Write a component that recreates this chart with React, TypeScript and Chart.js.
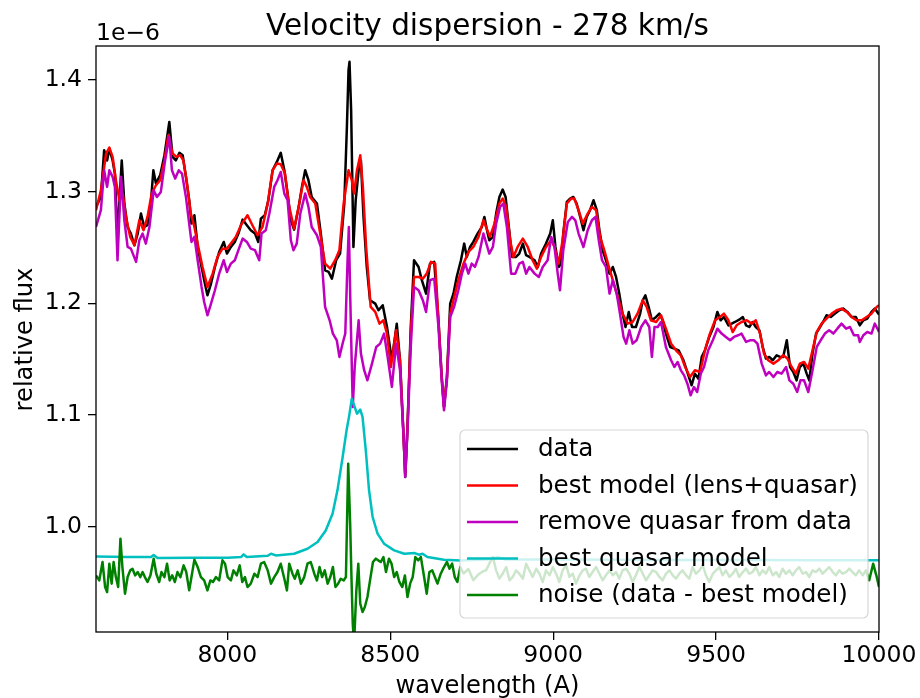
import React, { useEffect, useRef } from "react";
import { Chart, registerables } from "chart.js";

Chart.register(...registerables);

// ---------- DATA (flux in units of 1e-6) ----------
const TITLE = "Velocity dispersion - 278 km/s";
const X_LABEL = "wavelength (A)";
const Y_LABEL = "relative flux";
const Y_OFFSET_LABEL = "1e\u22126";

const X_MIN = 7597;
const X_MAX = 10000;
const Y_MIN = 0.9056;
const Y_MAX = 1.4305;
const X_TICKS = [8000, 8500, 9000, 9500, 10000];
const Y_TICKS = [1.0, 1.1, 1.2, 1.3, 1.4];

const SERIES_LABELS = [
  "data",
  "best model (lens+quasar)",
  "remove quasar from data",
  "best quasar model",
  "noise (data - best model)",
];
const SERIES_COLORS = ["#000000", "#ff0000", "#bf00bf", "#00bfbf", "#008000"];

const DATA_FLUX: [number, number][] = [
  [7597, 1.2864], [7612, 1.2953], [7622, 1.3372], [7631, 1.328], [7638, 1.3386], [7648, 1.328],
  [7655, 1.316], [7663, 1.2595], [7676, 1.328], [7684, 1.2894], [7694, 1.2684], [7704, 1.2625],
  [7715, 1.252], [7725, 1.2625], [7735, 1.2804], [7745, 1.2684], [7755, 1.27], [7766, 1.2924],
  [7773, 1.3192], [7781, 1.3073], [7794, 1.3148], [7807, 1.3327], [7822, 1.3625], [7832, 1.3312],
  [7842, 1.328], [7853, 1.3348], [7863, 1.3327], [7873, 1.3133], [7883, 1.2924], [7890, 1.2714],
  [7899, 1.2789], [7909, 1.2505], [7921, 1.2326], [7929, 1.2207], [7939, 1.2072], [7950, 1.2177],
  [7962, 1.2326], [7975, 1.246], [7989, 1.255], [7999, 1.2446], [8011, 1.2505], [8023, 1.255],
  [8034, 1.2625], [8047, 1.275], [8060, 1.27], [8072, 1.2655], [8085, 1.2625], [8095, 1.255],
  [8103, 1.2759], [8115, 1.2789], [8126, 1.2924], [8139, 1.3192], [8152, 1.3267], [8164, 1.3348],
  [8175, 1.3192], [8185, 1.2983], [8195, 1.2744], [8205, 1.266], [8219, 1.2864], [8229, 1.3043],
  [8239, 1.3192], [8249, 1.3103], [8259, 1.2953], [8275, 1.2894], [8287, 1.2625], [8300, 1.2296],
  [8311, 1.2281], [8321, 1.2221], [8334, 1.2386], [8346, 1.2446], [8359, 1.2894], [8367, 1.358],
  [8372, 1.4088], [8375, 1.4163], [8380, 1.373], [8387, 1.2505], [8394, 1.2924], [8403, 1.3192],
  [8410, 1.328], [8418, 1.2774], [8428, 1.2326], [8438, 1.2028], [8454, 1.1997], [8464, 1.1938],
  [8477, 1.1983], [8490, 1.1788], [8505, 1.149], [8520, 1.1818], [8530, 1.149], [8541, 1.0803],
  [8546, 1.0444], [8553, 1.0892], [8563, 1.1788], [8573, 1.2386], [8587, 1.2326], [8597, 1.2207],
  [8610, 1.2087], [8622, 1.2356], [8635, 1.2371], [8648, 1.1848], [8658, 1.134], [8665, 1.1072],
  [8674, 1.134], [8684, 1.1997], [8694, 1.2087], [8704, 1.2236], [8717, 1.2386], [8727, 1.2535],
  [8735, 1.2416], [8745, 1.2505], [8755, 1.255], [8768, 1.2625], [8781, 1.2684], [8789, 1.2774],
  [8798, 1.264], [8804, 1.2565], [8815, 1.2595], [8825, 1.2804], [8835, 1.2953], [8845, 1.3019],
  [8854, 1.2953], [8864, 1.2684], [8874, 1.2416], [8886, 1.2416], [8896, 1.2446], [8907, 1.2535],
  [8917, 1.2431], [8927, 1.2416], [8943, 1.2386], [8953, 1.2326], [8963, 1.2446], [8978, 1.2535],
  [8991, 1.2625], [8999, 1.2744], [9007, 1.2505], [9017, 1.2326], [9024, 1.2356], [9031, 1.2625],
  [9042, 1.2908], [9052, 1.2938], [9062, 1.2953], [9072, 1.2894], [9083, 1.2774], [9093, 1.2655],
  [9103, 1.2774], [9113, 1.2834], [9124, 1.2923], [9134, 1.2834], [9142, 1.2655], [9152, 1.2475],
  [9162, 1.2386], [9173, 1.2266], [9183, 1.2326], [9193, 1.2236], [9203, 1.2087], [9213, 1.1908],
  [9222, 1.1788], [9232, 1.1923], [9242, 1.1788], [9254, 1.1788], [9267, 1.1908], [9275, 1.2027],
  [9283, 1.2072], [9293, 1.1968], [9303, 1.1848], [9316, 1.1878], [9326, 1.1908], [9336, 1.1848],
  [9346, 1.1729], [9359, 1.1609], [9372, 1.1594], [9385, 1.1579], [9400, 1.149], [9410, 1.14],
  [9420, 1.131], [9425, 1.1266], [9435, 1.137], [9446, 1.1325], [9456, 1.152], [9466, 1.158],
  [9479, 1.1699], [9492, 1.1788], [9504, 1.1923], [9514, 1.1848], [9524, 1.1878], [9538, 1.1803],
  [9548, 1.1818], [9558, 1.1833], [9571, 1.1854], [9582, 1.1878], [9592, 1.1803], [9602, 1.1788],
  [9612, 1.1833], [9622, 1.1788], [9633, 1.1758], [9643, 1.161], [9653, 1.1505], [9663, 1.152],
  [9674, 1.149], [9686, 1.1535], [9696, 1.152], [9706, 1.152], [9717, 1.167], [9727, 1.143],
  [9737, 1.1385], [9747, 1.131], [9757, 1.143], [9768, 1.146], [9778, 1.137], [9786, 1.131],
  [9796, 1.155], [9807, 1.1729], [9819, 1.1788], [9831, 1.1848], [9839, 1.1893], [9852, 1.1878],
  [9865, 1.1908], [9878, 1.1938], [9890, 1.1953], [9903, 1.1923], [9916, 1.1878], [9929, 1.1878],
  [9941, 1.1803], [9952, 1.1848], [9964, 1.1863], [9977, 1.1923], [9987, 1.1953], [10000, 1.19],
];

const MODEL_FLUX: [number, number][] = [
  [7597, 1.2834], [7612, 1.3013], [7628, 1.3342], [7638, 1.3395], [7648, 1.3312], [7658, 1.3103],
  [7669, 1.2924], [7679, 1.2983], [7689, 1.2774], [7702, 1.2595], [7715, 1.252], [7730, 1.2744],
  [7743, 1.2655], [7755, 1.2774], [7768, 1.2983], [7781, 1.3058], [7794, 1.3103], [7807, 1.328],
  [7819, 1.3506], [7832, 1.3342], [7844, 1.3312], [7855, 1.3327], [7865, 1.328], [7875, 1.3103],
  [7888, 1.2804], [7899, 1.2684], [7911, 1.2505], [7924, 1.2326], [7939, 1.2147], [7955, 1.2266],
  [7970, 1.2416], [7985, 1.249], [7999, 1.249], [8011, 1.2535], [8026, 1.2595], [8042, 1.27],
  [8062, 1.2789], [8077, 1.27], [8093, 1.261], [8108, 1.2684], [8124, 1.2894], [8139, 1.3192],
  [8152, 1.3252], [8164, 1.3246], [8177, 1.3162], [8190, 1.2864], [8205, 1.2669], [8219, 1.2864],
  [8234, 1.3103], [8244, 1.3043], [8254, 1.2953], [8270, 1.2894], [8285, 1.2625], [8300, 1.2356],
  [8316, 1.2311], [8331, 1.2386], [8344, 1.2476], [8357, 1.2894], [8372, 1.3192], [8382, 1.3103],
  [8389, 1.2983], [8398, 1.3192], [8408, 1.3327], [8416, 1.3043], [8426, 1.2505], [8440, 1.1968],
  [8454, 1.1923], [8467, 1.1818], [8479, 1.1848], [8490, 1.1729], [8502, 1.143], [8518, 1.1759],
  [8530, 1.149], [8541, 1.0803], [8546, 1.0474], [8553, 1.0892], [8563, 1.1729], [8573, 1.2236],
  [8587, 1.2236], [8600, 1.2221], [8612, 1.2266], [8625, 1.2371], [8638, 1.2356], [8648, 1.1848],
  [8658, 1.134], [8665, 1.1072], [8674, 1.134], [8684, 1.1908], [8694, 1.2028], [8709, 1.2207],
  [8725, 1.2356], [8740, 1.246], [8755, 1.2505], [8771, 1.2595], [8786, 1.2744], [8798, 1.2655],
  [8806, 1.2595], [8820, 1.2714], [8835, 1.2894], [8845, 1.2938], [8856, 1.2864], [8868, 1.2565],
  [8878, 1.2416], [8891, 1.2505], [8907, 1.258], [8922, 1.2505], [8937, 1.2386], [8950, 1.2311],
  [8963, 1.2416], [8978, 1.2505], [8994, 1.2565], [9004, 1.2505], [9017, 1.2356], [9029, 1.2565],
  [9042, 1.2894], [9055, 1.2938], [9065, 1.2938], [9078, 1.2834], [9091, 1.2714], [9106, 1.2804],
  [9119, 1.2864], [9132, 1.2834], [9144, 1.2595], [9157, 1.2475], [9171, 1.2326], [9183, 1.2207],
  [9198, 1.2057], [9213, 1.1908], [9229, 1.1818], [9244, 1.1833], [9259, 1.1908], [9275, 1.2027],
  [9287, 1.1968], [9300, 1.1848], [9316, 1.1833], [9331, 1.1893], [9346, 1.1773], [9362, 1.1639],
  [9377, 1.1579], [9392, 1.1534], [9405, 1.143], [9420, 1.134], [9435, 1.14], [9451, 1.1385],
  [9466, 1.158], [9481, 1.1729], [9497, 1.1848], [9512, 1.1878], [9524, 1.1908], [9538, 1.1848],
  [9551, 1.1743], [9563, 1.1803], [9578, 1.1833], [9594, 1.1848], [9609, 1.1818], [9622, 1.1848],
  [9635, 1.1729], [9647, 1.155], [9660, 1.149], [9676, 1.146], [9691, 1.149], [9706, 1.1535],
  [9719, 1.1505], [9732, 1.143], [9745, 1.137], [9757, 1.146], [9770, 1.1475], [9783, 1.1415],
  [9796, 1.158], [9809, 1.1744], [9824, 1.1818], [9839, 1.1863], [9855, 1.1908], [9870, 1.1938],
  [9885, 1.1953], [9901, 1.1923], [9916, 1.1878], [9931, 1.1848], [9947, 1.1848], [9962, 1.1878],
  [9977, 1.1908], [9993, 1.1968], [10000, 1.1983],
];

const NO_QUASAR_FLUX: [number, number][] = [
  [7597, 1.2684], [7612, 1.2834], [7622, 1.3192], [7631, 1.3043], [7638, 1.3192], [7648, 1.3133],
  [7655, 1.3043], [7663, 1.2386], [7674, 1.3133], [7684, 1.2744], [7694, 1.2505], [7704, 1.249],
  [7720, 1.2371], [7730, 1.2565], [7740, 1.2625], [7750, 1.2535], [7761, 1.2684], [7774, 1.3013],
  [7784, 1.2953], [7796, 1.2998], [7809, 1.328], [7822, 1.3491], [7830, 1.3192], [7840, 1.3118],
  [7851, 1.3192], [7861, 1.3162], [7873, 1.2953], [7883, 1.2714], [7890, 1.255], [7899, 1.2595],
  [7909, 1.2386], [7921, 1.2147], [7929, 1.2012], [7939, 1.1893], [7950, 1.1997], [7962, 1.2117],
  [7975, 1.2266], [7989, 1.2386], [7999, 1.2281], [8011, 1.2356], [8023, 1.2386], [8034, 1.2476],
  [8047, 1.258], [8060, 1.255], [8072, 1.249], [8085, 1.2476], [8098, 1.2386], [8105, 1.2625],
  [8118, 1.2655], [8129, 1.2804], [8144, 1.3043], [8154, 1.3103], [8164, 1.3177], [8175, 1.2983],
  [8185, 1.2924], [8195, 1.2565], [8203, 1.2476], [8213, 1.2535], [8224, 1.2804], [8239, 1.2983],
  [8249, 1.2864], [8259, 1.2684], [8275, 1.261], [8287, 1.2505], [8300, 1.1968], [8314, 1.1848],
  [8324, 1.1729], [8336, 1.1669], [8344, 1.152], [8355, 1.1654], [8362, 1.1729], [8369, 1.2386],
  [8373, 1.2684], [8377, 1.2087], [8385, 1.1072], [8391, 1.143], [8403, 1.1848], [8410, 1.155],
  [8420, 1.1401], [8430, 1.1311], [8444, 1.146], [8457, 1.1609], [8469, 1.1639], [8481, 1.1729],
  [8492, 1.152], [8505, 1.1251], [8518, 1.1639], [8530, 1.1401], [8541, 1.0803], [8546, 1.0444],
  [8553, 1.0863], [8563, 1.1609], [8573, 1.2147], [8587, 1.2117], [8600, 1.2028], [8610, 1.1923],
  [8622, 1.2207], [8635, 1.2221], [8648, 1.1788], [8658, 1.131], [8665, 1.1042], [8674, 1.131],
  [8684, 1.1878], [8696, 1.1968], [8709, 1.2117], [8720, 1.2266], [8730, 1.2356], [8740, 1.2266],
  [8750, 1.2356], [8760, 1.2326], [8771, 1.2416], [8786, 1.2625], [8798, 1.2505], [8804, 1.2446],
  [8815, 1.2505], [8825, 1.2714], [8837, 1.2864], [8847, 1.2894], [8858, 1.2684], [8871, 1.2266],
  [8884, 1.2266], [8896, 1.2356], [8907, 1.2371], [8917, 1.2266], [8927, 1.2326], [8943, 1.2266],
  [8956, 1.2236], [8968, 1.2326], [8983, 1.2386], [8994, 1.2595], [9004, 1.2505], [9014, 1.2266],
  [9021, 1.2117], [9031, 1.2475], [9045, 1.2729], [9058, 1.2774], [9068, 1.2744], [9078, 1.2625],
  [9093, 1.2505], [9106, 1.2655], [9119, 1.2744], [9130, 1.2774], [9140, 1.2565], [9150, 1.2386],
  [9162, 1.2326], [9173, 1.2087], [9183, 1.2207], [9195, 1.2087], [9205, 1.1908], [9216, 1.1699],
  [9224, 1.1639], [9234, 1.1759], [9244, 1.1639], [9256, 1.1669], [9270, 1.1788], [9283, 1.1848],
  [9295, 1.1788], [9303, 1.152], [9311, 1.1788], [9321, 1.1788], [9331, 1.1833], [9346, 1.1609],
  [9362, 1.149], [9372, 1.143], [9382, 1.1475], [9392, 1.14], [9402, 1.1355], [9412, 1.128],
  [9422, 1.1176], [9432, 1.125], [9442, 1.1206], [9453, 1.137], [9463, 1.143], [9476, 1.158],
  [9490, 1.1669], [9504, 1.1773], [9517, 1.1729], [9530, 1.1699], [9543, 1.1669], [9555, 1.1699],
  [9568, 1.1714], [9578, 1.1729], [9592, 1.1654], [9604, 1.1669], [9616, 1.1669], [9627, 1.1639],
  [9640, 1.146], [9653, 1.1355], [9663, 1.1385], [9676, 1.134], [9688, 1.1385], [9701, 1.137],
  [9715, 1.143], [9725, 1.131], [9737, 1.128], [9749, 1.1206], [9759, 1.131], [9770, 1.131],
  [9783, 1.1206], [9796, 1.14], [9809, 1.161], [9821, 1.1669], [9834, 1.1729], [9847, 1.1758],
  [9860, 1.1729], [9872, 1.1773], [9885, 1.1818], [9899, 1.1773], [9911, 1.1788], [9923, 1.1714],
  [9936, 1.1714], [9941, 1.1654], [9952, 1.1714], [9964, 1.1743], [9977, 1.1729], [9987, 1.1818],
  [9998, 1.1758], [10000, 1.1743],
];

const QUASAR_FLUX: [number, number][] = [
  [7597, 0.9733], [7694, 0.9727], [7766, 0.9727], [7774, 0.9745], [7786, 0.9718], [7899, 0.9721],
  [8001, 0.9721], [8042, 0.9727], [8050, 0.9751], [8060, 0.9727], [8124, 0.9739], [8134, 0.9757],
  [8149, 0.9742], [8205, 0.9757], [8246, 0.9802], [8277, 0.9862], [8302, 0.9966], [8323, 1.0116],
  [8338, 1.0325], [8354, 1.0624], [8366, 1.0863], [8374, 1.0992], [8382, 1.1146], [8389, 1.1087],
  [8398, 1.1012], [8408, 1.1048], [8415, 1.0982], [8425, 1.0683], [8435, 1.0325], [8446, 1.0086],
  [8461, 0.9937], [8481, 0.9847], [8512, 0.9787], [8543, 0.9757], [8575, 0.9763], [8589, 0.9748],
  [8599, 0.9757], [8614, 0.9727], [8665, 0.9704], [8717, 0.9697], [8800, 0.9706], [8830, 0.9728],
  [8850, 0.9706], [9000, 0.9705], [9200, 0.9704], [9400, 0.9702], [9600, 0.97], [9800, 0.9699],
  [10000, 0.9698],
];

const NOISE_FLUX: [number, number][] = [
  [7597, 0.9563], [7607, 0.9518], [7617, 0.9683], [7625, 0.9459], [7631, 0.9414], [7638, 0.9668],
  [7645, 0.9489], [7651, 0.9683], [7658, 0.9548], [7665, 0.9459], [7672, 0.9892], [7678, 0.9638],
  [7686, 0.9399], [7694, 0.9548], [7702, 0.9608], [7709, 0.9623], [7717, 0.9563], [7725, 0.9593],
  [7733, 0.9548], [7740, 0.9593], [7747, 0.9548], [7755, 0.9504], [7764, 0.9563], [7774, 0.9713],
  [7782, 0.9578], [7791, 0.9504], [7798, 0.9593], [7807, 0.9548], [7815, 0.9668], [7823, 0.9518],
  [7831, 0.9563], [7839, 0.9504], [7847, 0.9593], [7856, 0.9548], [7866, 0.9653], [7874, 0.9593],
  [7883, 0.9429], [7890, 0.9548], [7899, 0.9704], [7909, 0.9638], [7919, 0.9548], [7929, 0.9518],
  [7939, 0.9429], [7948, 0.9518], [7956, 0.9504], [7965, 0.9548], [7975, 0.9518], [7985, 0.9698],
  [7993, 0.9668], [8001, 0.9548], [8011, 0.9518], [8019, 0.9608], [8029, 0.9563], [8038, 0.9653],
  [8046, 0.9504], [8054, 0.9548], [8062, 0.9459], [8072, 0.9489], [8083, 0.9578], [8093, 0.9548],
  [8103, 0.9668], [8113, 0.9683], [8124, 0.9608], [8134, 0.9489], [8144, 0.9548], [8154, 0.9593],
  [8164, 0.9668], [8175, 0.9533], [8183, 0.9429], [8190, 0.9668], [8200, 0.9578], [8207, 0.9533],
  [8216, 0.9608], [8226, 0.9489], [8236, 0.9548], [8246, 0.9668], [8256, 0.9683], [8267, 0.9578],
  [8275, 0.9518], [8283, 0.9638], [8291, 0.9548], [8299, 0.9608], [8308, 0.9489], [8316, 0.9548],
  [8324, 0.9638], [8332, 0.9459], [8340, 0.9489], [8348, 0.9533], [8357, 0.9518], [8364, 0.9548],
  [8371, 1.0564], [8377, 1.0026], [8381, 0.9548], [8385, 0.913], [8389, 0.895], [8396, 0.9429],
  [8402, 0.9668], [8408, 0.9309], [8415, 0.9235], [8422, 0.928], [8430, 0.9369], [8438, 0.9518],
  [8447, 0.9683], [8456, 0.9713], [8463, 0.9698], [8471, 0.9683], [8479, 0.9727], [8487, 0.9593],
  [8496, 0.9713], [8504, 0.9668], [8512, 0.9548], [8520, 0.9593], [8528, 0.9504], [8537, 0.9459],
  [8545, 0.9563], [8553, 0.9369], [8561, 0.9489], [8569, 0.9548], [8577, 0.9727], [8586, 0.9698],
  [8594, 0.9727], [8604, 0.9548], [8612, 0.9399], [8620, 0.9593], [8629, 0.9608], [8637, 0.9548],
  [8645, 0.9489], [8655, 0.9578], [8665, 0.9638], [8674, 0.9683], [8682, 0.9623], [8690, 0.9668],
  [8698, 0.9548], [8706, 0.9504], [8715, 0.9638], [8725, 0.958], [8740, 0.962], [8755, 0.952],
  [8770, 0.957], [8785, 0.96], [8794, 0.9608], [8804, 0.9668], [8815, 0.9728], [8825, 0.9608],
  [8835, 0.9534], [8845, 0.9578], [8856, 0.9638], [8866, 0.9519], [8876, 0.9549], [8886, 0.9608],
  [8896, 0.9578], [8907, 0.9534], [8917, 0.9668], [8927, 0.9608], [8937, 0.9549], [8948, 0.9623],
  [8958, 0.9578], [8968, 0.9504], [8978, 0.9608], [8989, 0.9564], [8999, 0.9638], [9009, 0.9578],
  [9019, 0.9504], [9029, 0.9608], [9040, 0.9653], [9050, 0.9549], [9060, 0.9578], [9070, 0.9489],
  [9081, 0.9564], [9091, 0.9608], [9101, 0.9623], [9111, 0.9549], [9121, 0.9593], [9132, 0.9638],
  [9142, 0.9578], [9152, 0.9519], [9162, 0.9564], [9173, 0.9608], [9183, 0.9564], [9193, 0.9593],
  [9203, 0.9534], [9213, 0.9608], [9224, 0.9623], [9234, 0.9578], [9244, 0.9504], [9254, 0.9564],
  [9265, 0.9638], [9275, 0.9578], [9285, 0.9519], [9295, 0.9564], [9305, 0.9608], [9316, 0.9593],
  [9326, 0.9549], [9336, 0.9519], [9346, 0.9578], [9357, 0.9608], [9367, 0.9564], [9377, 0.9534],
  [9387, 0.9578], [9397, 0.9608], [9408, 0.9564], [9418, 0.9534], [9428, 0.9638], [9438, 0.9578],
  [9449, 0.9608], [9459, 0.9653], [9469, 0.9564], [9479, 0.9504], [9490, 0.9578], [9500, 0.9608],
  [9510, 0.9638], [9520, 0.9564], [9530, 0.9608], [9541, 0.9549], [9551, 0.9578], [9561, 0.9623],
  [9571, 0.9549], [9582, 0.9593], [9592, 0.9623], [9602, 0.9578], [9612, 0.9593], [9622, 0.9638],
  [9633, 0.9564], [9643, 0.9608], [9653, 0.9578], [9663, 0.9638], [9674, 0.9564], [9684, 0.9593],
  [9694, 0.9549], [9704, 0.9623], [9714, 0.9578], [9725, 0.9608], [9735, 0.9564], [9745, 0.9608],
  [9755, 0.9638], [9766, 0.9578], [9776, 0.9593], [9786, 0.9549], [9796, 0.9608], [9806, 0.9593],
  [9817, 0.9623], [9827, 0.9578], [9837, 0.9608], [9847, 0.9638], [9858, 0.9593], [9868, 0.9564],
  [9878, 0.9608], [9888, 0.9578], [9899, 0.9593], [9909, 0.9623], [9919, 0.9593], [9929, 0.9564],
  [9939, 0.9608], [9950, 0.9564], [9960, 0.9608], [9970, 0.9519], [9982, 0.9668], [9993, 0.955],
  [10000, 0.946],
];

const SERIES_DATA = [DATA_FLUX, MODEL_FLUX, NO_QUASAR_FLUX, QUASAR_FLUX, NOISE_FLUX];

// ---------- STYLE ----------
const FONT = "'DejaVu Sans', 'Liberation Sans', sans-serif";
const TICK_SIZE = 23.5;
const LABEL_SIZE = 24.2;
const LEGEND_SIZE = 24.6;
const TITLE_SIZE = 29.5;
const LINE_WIDTH = 2.5;

const decorPlugin = {
  id: "mplDecor",
  afterDatasetsDraw(chart: any) {
    const { ctx, chartArea } = chart;
    const { right, bottom } = chartArea;
    ctx.save();
    // legend (inside axes, lower right)
    const lw = 408;
    const lh = 188;
    const lx = right - 11 - lw;
    const ly = bottom - 14 - lh;
    ctx.beginPath();
    if (ctx.roundRect) ctx.roundRect(lx, ly, lw, lh, 5);
    else ctx.rect(lx, ly, lw, lh);
    ctx.fillStyle = "rgba(255,255,255,0.8)";
    ctx.fill();
    ctx.strokeStyle = "rgba(204,204,204,0.8)";
    ctx.lineWidth = 1.2;
    ctx.stroke();
    ctx.font = `${LEGEND_SIZE}px ${FONT}`;
    ctx.textBaseline = "middle";
    ctx.textAlign = "left";
    SERIES_LABELS.forEach((label, i) => {
      const y = ly + 19 + i * 36.5;
      ctx.beginPath();
      ctx.moveTo(lx + 7, y);
      ctx.lineTo(lx + 58, y);
      ctx.strokeStyle = SERIES_COLORS[i];
      ctx.lineWidth = LINE_WIDTH;
      ctx.stroke();
      ctx.fillStyle = "#000";
      ctx.fillText(label, lx + 78, y + 1);
    });
    ctx.restore();
  },
  afterDraw(chart: any) {
    const { ctx, chartArea } = chart;
    const { left, right, top, bottom } = chartArea;
    const cx = (left + right) / 2;
    ctx.save();
    // spines
    ctx.strokeStyle = "#000";
    ctx.lineWidth = 1.3;
    ctx.strokeRect(left, top, right - left, bottom - top);
    // title
    ctx.fillStyle = "#000";
    ctx.textAlign = "center";
    ctx.textBaseline = "alphabetic";
    ctx.font = `${TITLE_SIZE}px ${FONT}`;
    ctx.fillText(TITLE, cx, top - 11);
    // offset text
    ctx.font = `${TICK_SIZE}px ${FONT}`;
    ctx.textAlign = "left";
    ctx.fillText(Y_OFFSET_LABEL, left, top - 6);
    // x label
    ctx.font = `${LABEL_SIZE}px ${FONT}`;
    ctx.textAlign = "center";
    ctx.fillText(X_LABEL, cx, bottom + 61);
    // y label
    ctx.translate(32, (top + bottom) / 2 + 0.5);
    ctx.rotate(-Math.PI / 2);
    ctx.fillText(Y_LABEL, 0, 0);
    ctx.restore();
  },
};

export default function App() {
  const canvasRef = useRef<HTMLCanvasElement | null>(null);

  useEffect(() => {
    const canvas = canvasRef.current;
    if (!canvas) return;
    const datasets = SERIES_DATA.map((series, i) => ({
      label: SERIES_LABELS[i],
      data: series.map(([x, y]) => ({ x, y })),
      borderColor: SERIES_COLORS[i],
      backgroundColor: SERIES_COLORS[i],
      borderWidth: LINE_WIDTH,
      pointRadius: 0,
      tension: 0,
      fill: false,
      borderJoinStyle: "round",
      order: SERIES_DATA.length - i,
    }));
    const chart = new Chart(canvas, {
      type: "line",
      data: { datasets },
      options: {
        responsive: false,
        animation: false,
        devicePixelRatio: 1,
        layout: { padding: { top: 46, right: 41, left: 0, bottom: 0 } },
        plugins: {
          legend: { display: false },
          tooltip: { enabled: false },
          title: { display: false },
        },
        scales: {
          x: {
            type: "linear",
            min: X_MIN,
            max: X_MAX,
            afterBuildTicks: (s: any) => {
              s.ticks = X_TICKS.map((v) => ({ value: v }));
            },
            afterFit: (s: any) => {
              s.height = 66;
            },
            border: { display: false },
            grid: {
              drawOnChartArea: false,
              drawTicks: true,
              tickLength: 8,
              color: "#000",
              lineWidth: 1.3,
            },
            ticks: {
              color: "#000",
              font: { size: TICK_SIZE, family: FONT },
              padding: 2,
              maxRotation: 0,
              autoSkip: false,
              callback: (v: any) => String(v),
            },
          },
          y: {
            type: "linear",
            min: Y_MIN,
            max: Y_MAX,
            afterBuildTicks: (s: any) => {
              s.ticks = Y_TICKS.map((v) => ({ value: v }));
            },
            afterFit: (s: any) => {
              s.width = 96;
            },
            border: { display: false },
            grid: {
              drawOnChartArea: false,
              drawTicks: true,
              tickLength: 8,
              color: "#000",
              lineWidth: 1.3,
            },
            ticks: {
              color: "#000",
              font: { size: TICK_SIZE, family: FONT },
              padding: 6,
              autoSkip: false,
              callback: (v: any) => Number(v).toFixed(1),
            },
          },
        },
      },
      plugins: [decorPlugin],
    } as any);
    return () => chart.destroy();
  }, []);

  return (
    <div
      style={{
        position: "fixed",
        left: 0,
        top: 0,
        width: 920,
        height: 698,
        background: "#fff",
      }}
    >
      <canvas ref={canvasRef} width={920} height={698} style={{ display: "block" }} />
    </div>
  );
}
